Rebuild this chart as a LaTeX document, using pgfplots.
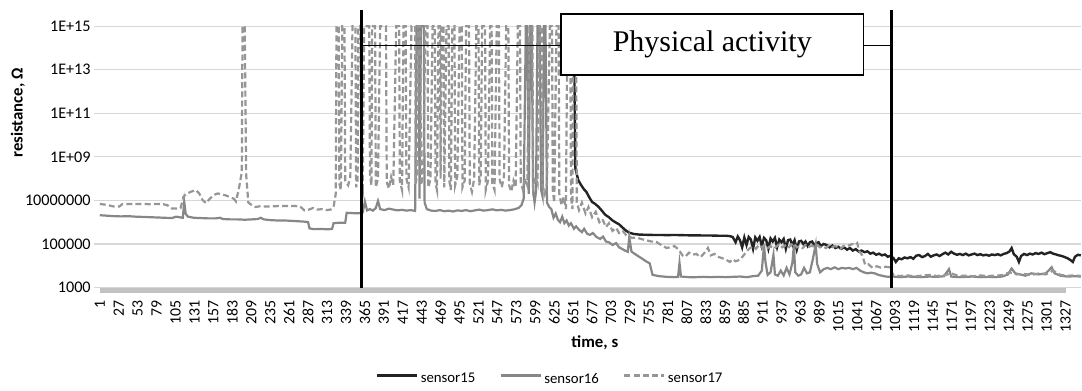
\documentclass[border=0pt]{standalone}
\usepackage{fontspec}
\setmainfont{Carlito}
\newfontfamily\timesfont{Liberation Serif}
\usepackage{pgfplots}
\pgfplotsset{compat=1.18}
\definecolor{sA}{RGB}{35,35,35}
\definecolor{sB}{RGB}{135,135,135}
\definecolor{sC}{RGB}{150,150,150}
\definecolor{gridc}{RGB}{215,215,215}
\begin{document}
\begin{tikzpicture}
\begin{axis}[
  scale only axis, width=491.4pt, height=130.8pt,
  xmin=0, xmax=1348,
  ymode=log, ymin=1e3, ymax=1e15,
  ytick={1e3,1e5,1e7,1e9,1e11,1e13,1e15},
  yticklabels={1000,100000,10000000,1E+09,1E+11,1E+13,1E+15},
  xtick={1,27,...,1327},
  minor x tick num=25,
  /pgf/number format/1000 sep={},
  /pgf/number format/assume math mode=true,
  xticklabel shift=3pt,
  xticklabel style={rotate=90, anchor=east, font=\fontsize{7.9}{9}\selectfont, inner sep=1pt},
  yticklabel style={font=\fontsize{8.1}{9}\selectfont, inner sep=1.5pt},
  axis x line*=bottom, axis y line*=left,
  x axis line style={draw=gridc, line width=0.6pt, -},
  y axis line style={draw=none, -},
  tick align=outside,
  major tick length=2.5pt, minor tick length=2.5pt,
  xtick style={color=black!24, line width=0.2pt},
  ytick style={color=gridc, line width=0.6pt},
  ymajorgrids, grid style={gridc, line width=0.6pt},
  clip=false,
  xlabel={time, s}, ylabel={resistance, Ω},
  label style={font=\bfseries\fontsize{8.4}{10}\selectfont},
  xlabel style={at={(axis description cs:0.505,-0.21)}, anchor=center},
  ylabel style={at={(axis description cs:-0.0827,0.668)}, anchor=center},
  legend style={at={(axis description cs:0.4605,-0.3527)}, anchor=center, draw=none, fill=none,
    font=\fontsize{7.4}{9}\selectfont, inner sep=0pt,
    /tikz/every odd column/.append style={column sep=-1pt},
    /tikz/every even column/.append style={column sep=10pt}},
  legend columns=3,
  legend image code/.code={\path[draw=none, fill=none] (0pt,-1pt) rectangle (20pt,5pt); \draw[#1, line width=1.5pt] (0pt,2pt) -- (20pt,2pt);},
]
\path (axis cs:-136,0.022) rectangle (axis cs:1348,1.6e16);

\addplot[sA, line width=1.2pt] coordinates {
(652,1e15)(654,3e8)(658,8.5e7)(662,5e7)(666,3.2e7)(669,2.5e7)(673,1.4e7)(677,8.5e6)(681,7e6)(686,5e6)(690,3.5e6)(695,2.2e6)(700,1.7e6)(705,1.2e6)(710,9.5e5)(714,8e5)(718,6e5)(724,4e5)(728,3.3e5)(734,2.9e5)(742,2.7e5)(751,2.65e5)(760,2.6e5)(770,2.6e5)(780,2.55e5)(790,2.6e5)(800,2.55e5)(810,2.5e5)(820,2.5e5)(830,2.45e5)(840,2.45e5)(850,2.4e5)(860,2.4e5)(866,2.3e5)(870,2.1e5)(874,1.2e5)(877,2.2e5)(880,1.5e5)(883,7e4)(886,2e5)(889,9e4)(892,2.1e5)(895,1.6e5)(898,6e4)(901,2e5)(904,1.4e5)(907,2.1e5)(910,8e4)(913,1.9e5)(916,1.5e5)(919,6e4)(922,1.8e5)(925,1.3e5)(928,1.9e5)(931,7e4)(934,1.6e5)(937,1.2e5)(940,1.7e5)(943,6e4)(946,1.5e5)(949,1.6e5)(952,9e4)(955,1.5e5)(958,5.5e4)(961,1.3e5)(964,1.4e5)(967,1e5)(970,1.3e5)(973,8e4)(976,1.2e5)(979,1.3e5)(982,9e4)(985,1.1e5)(988,1.2e5)(991,8e4)(995,1e5)(999,9e4)(1003,7e4)(1007,8.5e4)(1011,6.5e4)(1015,7.5e4)(1019,6e4)(1023,7e4)(1027,5.5e4)(1031,6.5e4)(1035,5e4)(1039,5.8e4)(1043,4.5e4)(1047,5e4)(1051,4.2e4)(1055,4.6e4)(1059,3.6e4)(1063,4e4)(1067,3.2e4)(1071,3.6e4)(1075,3e4)(1079,3.3e4)(1083,2.6e4)(1087,2.9e4)(1091,2.2e4)(1094,1.5e4)(1098,2.2e4)(1102,2e4)(1106,2.4e4)(1110,2.2e4)(1114,2.5e4)(1118,2.1e4)(1122,2.9e4)(1126,3.1e4)(1130,2.5e4)(1134,2.8e4)(1138,3.5e4)(1142,2.6e4)(1146,3e4)(1150,3.3e4)(1154,2.8e4)(1158,3.4e4)(1162,4e4)(1166,3.3e4)(1170,4.4e4)(1174,3.6e4)(1178,3.2e4)(1182,3.5e4)(1186,3.1e4)(1190,3.6e4)(1194,3e4)(1198,3.3e4)(1202,3.6e4)(1206,3.1e4)(1210,3.4e4)(1214,3e4)(1218,3.2e4)(1222,2.9e4)(1226,3.3e4)(1230,3.1e4)(1234,3.4e4)(1238,3e4)(1242,3.5e4)(1246,3.8e4)(1250,4.5e4)(1253,6.5e4)(1256,3.4e4)(1260,2.6e4)(1263,1.5e4)(1266,2.8e4)(1270,3.5e4)(1274,3.1e4)(1278,3.6e4)(1282,3.3e4)(1286,3.8e4)(1290,3.5e4)(1294,4e4)(1298,3.4e4)(1302,3.8e4)(1306,4.2e4)(1310,3.6e4)(1314,3.3e4)(1318,3e4)(1322,2.8e4)(1326,2.5e4)(1330,2.2e4)(1334,1.8e4)(1337,1.5e4)(1340,2.6e4)(1344,3.2e4)(1348,3e4)
};
\addlegendentry{sensor15}

\addplot[sB, line width=1.1pt] coordinates {
(1,2.1e6)(10,2.0e6)(20,1.9e6)(30,1.85e6)(40,1.9e6)(50,1.8e6)(60,1.75e6)(70,1.7e6)(80,1.65e6)(90,1.6e6)(100,1.55e6)(106,1.8e6)(112,1.65e6)(115,1.6e6)(117,8.5e6)(119,2.4e6)(122,1.8e6)(130,1.6e6)(140,1.55e6)(150,1.5e6)(160,1.5e6)(166,1.6e6)(170,1.4e6)(180,1.35e6)(190,1.35e6)(200,1.3e6)(210,1.35e6)(218,1.4e6)(222,1.6e6)(226,1.35e6)(235,1.25e6)(245,1.2e6)(255,1.2e6)(265,1.15e6)(275,1.1e6)(284,1.05e6)(287,1.0e6)(289,5.2e5)(295,4.8e5)(305,4.9e5)(315,4.7e5)(320,5e5)(322,9e5)(330,9.5e5)(338,9.5e5)(340,2.7e6)(350,2.6e6)(357,2.6e6)(362,2.8e6)(365,9e6)(368,3.5e6)(372,4e6)(376,3.4e6)(380,4.5e6)(383,9.5e6)(386,4e6)(392,3.6e6)(398,4.2e6)(404,3.8e6)(410,3.5e6)(416,3.7e6)(422,3.4e6)(428,3.6e6)(434,3.3e6)(436,1e15)(439,1e15)(440,1.2e7)(442,1e15)(446,1e15)(447,8e6)(450,4e6)(456,3.4e6)(462,3.3e6)(468,3.6e6)(474,3.2e6)(480,3.4e6)(486,3.1e6)(492,3.5e6)(498,3.3e6)(504,3.6e6)(510,3.2e6)(516,3.5e6)(522,3.8e6)(528,3.4e6)(534,3.6e6)(540,3.9e6)(546,3.5e6)(552,3.7e6)(558,3.4e6)(564,3.6e6)(570,3.9e6)(576,4.5e6)(580,6e6)(583,1.2e7)(586,1e15)(588,1e15)(590,2e7)(592,1e15)(594,1e15)(596,3e7)(598,8e6)(600,2.5e7)(602,1e15)(605,1e15)(607,3e7)(609,1.5e7)(611,1e15)(613,1e15)(615,8e6)(618,5e6)(621,4e6)(624,1.6e6)(627,2.5e6)(630,1.3e6)(633,1.0e6)(636,1.8e6)(639,9e5)(642,1.2e6)(645,7e5)(648,9e5)(652,5e5)(655,6.5e5)(659,4.5e5)(663,3.5e5)(666,5e5)(670,3e5)(674,2.6e5)(678,3.2e5)(683,2.1e5)(688,1.7e5)(692,2.2e5)(696,1.3e5)(700,1.2e5)(705,9e4)(710,1.1e5)(714,7e4)(718,6e4)(722,5e4)(726,4.4e4)(728,2.1e5)(731,4.5e4)(735,3.6e4)(740,2.8e4)(745,2.2e4)(751,1.6e4)(756,1.3e4)(760,3.8e3)(770,3.3e3)(780,3.1e3)(790,3.0e3)(795,3.1e3)(797,1.35e4)(799,3.2e3)(810,3.0e3)(820,3.0e3)(830,3.1e3)(840,3.0e3)(850,3.1e3)(860,3.0e3)(870,3.1e3)(880,3.2e3)(890,3.0e3)(897,3.3e3)(905,3.5e3)(910,6e3)(913,9e4)(915,1.5e4)(918,3.8e3)(922,5e3)(926,3.2e4)(928,4e3)(932,3.5e3)(936,6e3)(940,3.6e3)(944,8e3)(948,4e3)(952,1.4e4)(954,9e4)(956,5e3)(960,3.5e3)(964,4e3)(968,8e3)(972,4.5e3)(976,5e3)(980,2e4)(984,9.5e4)(986,1.2e4)(990,5e3)(995,7e3)(1000,8e3)(1005,7e3)(1010,8.5e3)(1015,7e3)(1020,8e3)(1025,7.5e3)(1030,8e3)(1035,7e3)(1040,8e3)(1045,6e3)(1050,5e3)(1055,4.5e3)(1060,4.8e3)(1065,4.5e3)(1070,3.8e3)(1075,3.5e3)(1080,3.2e3)(1085,3.1e3)(1090,3.2e3)(1100,3.0e3)(1110,3.2e3)(1120,3.1e3)(1130,3.0e3)(1140,3.2e3)(1150,3.1e3)(1160,3.3e3)(1167,7e3)(1170,3.2e3)(1180,3.0e3)(1190,3.1e3)(1200,3.2e3)(1210,3.0e3)(1220,3.1e3)(1230,3.0e3)(1240,3.2e3)(1248,4e3)(1253,7.5e3)(1258,4.5e3)(1265,4e3)(1272,3.5e3)(1280,4.5e3)(1290,4e3)(1300,4.5e3)(1308,8.5e3)(1312,4.5e3)(1320,3.5e3)(1330,3.2e3)(1340,3.3e3)(1348,3.2e3)
};
\addlegendentry{sensor16}

\addplot[sC, line width=1.1pt, dash pattern=on 3pt off 1.6pt] coordinates {
(1,6.9e6)(10,6.3e6)(20,5.3e6)(28,5.3e6)(32,6.8e6)(40,6.9e6)(50,6.8e6)(60,6.9e6)(70,6.7e6)(80,6.9e6)(88,6.7e6)(94,6.0e6)(100,4.3e6)(108,4.2e6)(112,4.5e6)(116,1.5e7)(120,2.0e7)(126,2.5e7)(133,3.0e7)(138,2.0e7)(142,1.05e7)(147,7.5e6)(152,1.2e7)(158,1.8e7)(163,2.1e7)(168,1.9e7)(174,1.7e7)(180,1.4e7)(185,1.2e7)(188,9e6)(192,3.5e7)(196,2e8)(197,1e15)(200,1e15)(202,1.5e8)(205,8e6)(210,6e6)(215,5e6)(222,5.5e6)(230,5.2e6)(240,5.4e6)(250,5.6e6)(260,5.5e6)(270,5.5e6)(276,5.3e6)(282,3.5e6)(288,3.8e6)(294,4.5e6)(300,3.8e6)(306,4.0e6)(312,3.6e6)(318,3.8e6)(322,5e6)(325,2e7)
(326,1e15)(329,1e15)(330,6e7)(332,3e7)(334,1e15)(337,1e15)(338,8e7)(342,5e7)(345,1.2e8)(348,1e15)(352,1e15)(353,4e7)(355,9e7)(356,1e15)(359,1e15)(360,6e7)(362,3e7)(364,1e15)(371,1e15)(372,1.5e8)(374,5e7)(375,1e15)(379,1e15)(380,4e7)(383,1e8)(386,1e15)(394,1e15)(395,7e7)(398,3.5e7)(401,1.2e8)(404,5e7)(408,1e15)(412,1e15)(413,8e7)(416,3e7)(418,1e15)(421,1e15)(422,1e8)(425,4e7)(429,1e15)(434,1e15)(435,6e7)(437,2e8)(438,1e15)(441,1e15)(442,5e7)(445,1.5e8)(448,1e15)(451,1e15)(452,4e7)(455,9e7)(458,1e15)(461,1e15)(462,6e7)(464,3e7)(466,1e15)(468,1e15)(469,1e8)(470,1e15)(473,1e15)(474,4e7)(477,1e15)(480,1e15)(481,8e7)(483,3e7)(485,1e15)(488,1e15)(489,5e7)(492,1.3e8)(495,1e15)(498,1e15)(499,4e7)(502,8e7)(504,1e15)(508,1e15)(509,6e7)(512,2.5e7)(515,1e8)(518,1e15)(521,1e15)(522,5e7)(524,1.2e8)(526,1e15)(530,1e15)(531,3e7)(534,8e7)(537,1e15)(539,1e15)(540,6e7)(543,3e7)(546,1e15)(549,1e15)(550,9e7)(553,4e7)(556,1.3e8)(559,1e15)(562,1e15)(563,5e7)(566,2.5e7)(569,8e7)(572,4e7)(575,1e15)(578,1e15)(579,7e7)(582,3e7)(585,1e8)(588,5e7)(591,1e15)(595,1e15)(596,4e7)(599,1.2e8)(602,6e7)(605,1e15)(608,1e15)(609,5e7)(612,2e7)(615,6e7)(619,1e15)(622,1e15)(623,3e7)(625,8e6)(628,1e15)(631,1e15)(632,2e7)(635,6e6)(638,1.5e7)(641,4e6)(643,1e15)(647,1e15)(648,1.5e7)(650,4e6)(651,1e15)(655,1e15)(656,8e6)(659,3.6e6)(663,8e6)(668,2.5e6)(672,5e6)(677,1.7e6)(682,3e6)(687,1e6)(691,1.4e6)(696,6e5)(700,9e5)(705,4e5)(710,5.5e5)(714,3.2e5)(719,4e5)(724,2.5e5)(728,2.2e5)(732,1.9e5)(738,2e5)(744,1.7e5)(751,1.5e5)(758,1.3e5)(765,1.25e5)(772,9e4)(779,6.6e4)(784,7e4)(790,8e4)(796,5.5e4)(801,3e4)(805,2.6e4)(810,4e4)(815,3.2e4)(820,3.5e4)(826,2.5e4)(832,4.2e4)(836,6.6e4)(840,3e4)(845,3.5e4)(851,2.5e4)(856,2.2e4)(861,1.9e4)(866,1.5e4)(870,2e4)(874,1.6e4)(880,1.9e4)(885,3e4)(890,5e4)(894,6.6e4)(898,8e4)(902,6e4)(906,9e4)(910,7e4)(914,9e4)(918,6.5e4)(922,8e4)(926,6e4)(930,7.5e4)(934,1e5)(938,7e4)(942,8.5e4)(946,6.5e4)(950,9e4)(954,1.1e5)(958,7e4)(962,8e4)(966,6.5e4)(970,9e4)(974,7e4)(978,8.5e4)(982,7.5e4)(986,9e4)(990,7e4)(994,8e4)(998,6.5e4)(1002,8.5e4)(1006,7e4)(1010,8e4)(1014,7.5e4)(1018,6e4)(1022,8e4)(1026,9e4)(1030,8.5e4)(1034,1e5)(1038,9e4)(1041,1.1e5)(1044,4.5e4)(1048,3e4)(1052,1.1e4)(1056,1.2e4)(1062,8e3)(1068,9.5e3)(1074,8e3)(1080,9e3)(1086,8.5e3)(1090,4e3)(1094,3.5e3)(1100,3.4e3)(1110,3.6e3)(1120,3.3e3)(1130,3.5e3)(1140,3.8e3)(1150,3.4e3)(1160,3.6e3)(1170,4.5e3)(1180,3.4e3)(1190,3.5e3)(1200,3.3e3)(1210,3.6e3)(1220,3.4e3)(1230,3.5e3)(1240,3.7e3)(1250,5e3)(1260,4e3)(1270,4.2e3)(1280,3.8e3)(1290,4.4e3)(1300,4e3)(1310,6e3)(1320,3.8e3)(1330,3.5e3)(1340,3.6e3)(1348,3.4e3)
};
\addlegendentry{sensor17}

\draw[black, line width=1.5pt] (axis cs:360,1e3) -- (axis cs:360,5.5e15);
\draw[black, line width=1.5pt] (axis cs:1088,1e3) -- (axis cs:1088,5.5e15);
\draw[black, line width=0.6pt] (axis cs:360,1.26e14) -- (axis cs:1088,1.26e14);
\node[draw=black, fill=white, line width=0.7pt, minimum width=151.5pt, minimum height=30.5pt,
  inner sep=0pt, font=\timesfont\fontsize{15}{18}\selectfont] at (axis cs:842,1.45e14) {Physical activity};
\end{axis}
\end{tikzpicture}
\end{document}
